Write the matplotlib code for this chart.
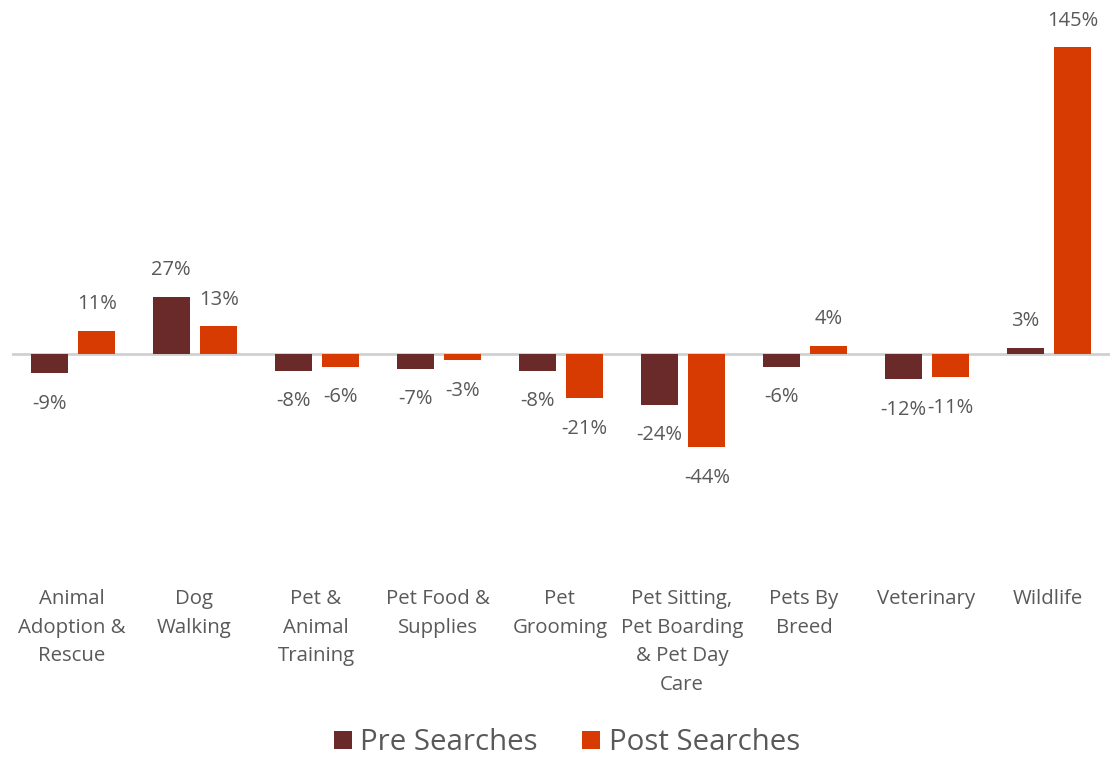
import matplotlib.pyplot as plt
import numpy as np

plt.rcParams['font.family'] = ['Open Sans', 'DejaVu Sans']

categories = ['Animal\nAdoption &\nRescue', 'Dog\nWalking', 'Pet &\nAnimal\nTraining',
              'Pet Food &\nSupplies', 'Pet\nGrooming',
              'Pet Sitting,\nPet Boarding\n& Pet Day\nCare', 'Pets By\nBreed',
              'Veterinary', 'Wildlife']
pre = [-9, 27, -8, -7, -8, -24, -6, -12, 3]
post = [11, 13, -6, -3, -21, -44, 4, -11, 145]

pre_color = '#6B2A2A'
post_color = '#D83B01'
text_color = '#595959'

fig = plt.figure(figsize=(11.14, 7.64), dpi=100)
ax = fig.add_axes([12 / 1114, 1 - 481 / 764, 1098 / 1114, (481 - 36.4) / 764])

x = np.arange(len(categories))
w = 0.30
off = 0.195
b1 = ax.bar(x - off, pre, w, color=pre_color, label='Pre Searches', zorder=3)
b2 = ax.bar(x + off, post, w, color=post_color, label='Post Searches', zorder=3)

ax.set_xlim(-0.5, len(categories) - 0.5)
ax.set_ylim(-60, 150)
ax.axhline(0, color='#D0D0D0', lw=2, zorder=2)

for bars, vals in [(b1, pre), (b2, post)]:
    for bar, v in zip(bars, vals):
        cx = bar.get_x() + bar.get_width() / 2
        dy = 19 if v >= 0 else -22
        ax.annotate('{}%'.format(v), (cx, v), xytext=(0, dy), textcoords='offset points',
                    ha='center', va='center', fontsize=14.5, color=text_color)

for s in ax.spines.values():
    s.set_visible(False)
ax.set_xticks([])
ax.set_yticks([])

for i, c in enumerate(categories):
    fx = (12 + 122 * (i + 0.5) - 1) / 1114
    fig.text(fx, 1 - 589 / 764, c, ha='center', va='top', fontsize=14.7,
             color=text_color, linespacing=1.58)

fig.legend(handles=[b1, b2], loc='center', bbox_to_anchor=(567 / 1114, 1 - 743 / 764),
           ncol=2, frameon=False, fontsize=21.2, labelcolor=text_color,
           handlelength=0.6, handleheight=0.6, handletextpad=0.3, columnspacing=1.5)

fig.savefig('out.png', dpi=100)
